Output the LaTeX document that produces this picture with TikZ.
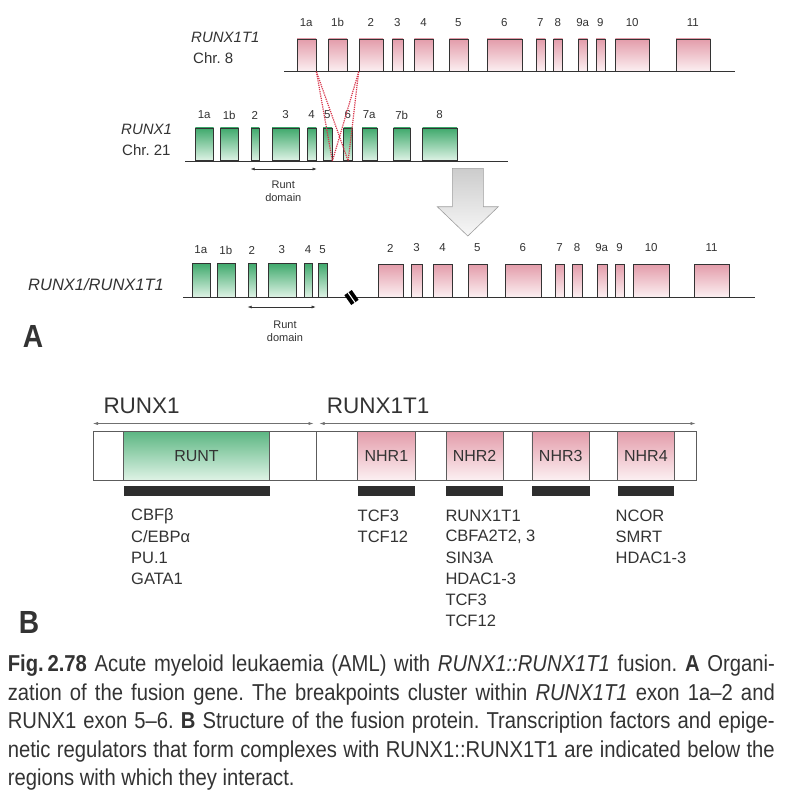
\documentclass[tikz,border=0pt]{standalone}
\usepackage{fontspec}
\setmainfont{Liberation Sans}
\newfontfamily\capfont[FakeStretch=0.88]{Liberation Sans}
\usetikzlibrary{arrows.meta,positioning,calc}
\frenchspacing

\definecolor{ink}{HTML}{333333}
\definecolor{pinkT}{HTML}{E39CAA}
\definecolor{pinkB}{HTML}{FCF0F2}
\definecolor{greenT}{HTML}{3FA96C}
\definecolor{greenB}{HTML}{DFF3E6}
\definecolor{brkred}{HTML}{D8344A}

\tikzset{
  exon/.style={draw=ink, line width=0.7pt, inner sep=0pt, anchor=south west, minimum height=#1},
  exonR/.style={exon=#1, top color=pinkT, bottom color=pinkB},
  exonG/.style={exon=#1, top color=greenT, bottom color=greenB},
  exnum/.style={font=\fontsize{11.5}{13}\selectfont, inner sep=0pt},
  gene/.style={font=\fontsize{15}{17}\selectfont\itshape, anchor=west, inner sep=0pt},
  chrom/.style={font=\fontsize{15}{17}\selectfont, anchor=west, inner sep=0pt},
  dna/.style={draw=ink, line width=1pt},
  fuse/.style={draw=brkred, densely dotted, line width=1.2pt},
  runtspan/.style={draw=ink, line width=0.5pt, {Latex[length=4pt,width=3pt]}-{Latex[length=4pt,width=3pt]}},
  runt/.style={font=\fontsize{11}{13.5}\selectfont, align=center, inner sep=0pt},
  protdom/.style={draw=ink!80, line width=0.5pt, inner sep=0pt, anchor=north west, minimum height=49pt, font=\fontsize{16}{18}\selectfont},
  protR/.style={protdom, top color=pinkT, bottom color=pinkB},
  protG/.style={protdom, top color=greenT!85, bottom color=greenB},
  bind/.style={fill=ink!90!black, inner sep=0pt, anchor=north west, minimum height=10pt},
  protspan/.style={draw=ink!70, line width=0.5pt, {Latex[length=5pt,width=3pt]}-{Latex[length=5pt,width=3pt]}},
  head/.style={font=\fontsize{22.5}{24}\selectfont, anchor=west, inner sep=0pt},
  partner/.style={font=\fontsize{16.5}{20}\selectfont, anchor=west, inner sep=0pt},
  panel/.style={font=\capfont\bfseries\fontsize{32}{34}\selectfont, inner sep=0pt},
  capline/.style={font=\capfont\fontsize{23}{28}\selectfont, anchor=west, inner sep=0pt}
}

\begin{document}
\begin{tikzpicture}[x=1pt,y=-1pt,every node/.append style={text=ink}]
\fill[white] (0,0) rectangle (794,804);

\node[gene] (g8) at (191,37) {RUNX1T1};
\node[chrom] (c8) at (193,58) {Chr. 8};
\coordinate (t0) at (284,71.7);
\coordinate (t1) at (735,71.7);
\draw[dna] (t0) -- (t1);
\foreach \n/\a/\b in {1a/296.7/315.7, 1b/328.3/346.7, 2/358.7/382.7, 3/392/402.7, 4/414/433.3, 5/449/467.7, 6/486.7/521.7, 7/535.7/545, 8/553.3/562.3, 9a/578/587.3, 9/595.7/605, 10/615/649.3, 11/675.7/710} {
    \node[exonR=32.4pt, minimum width={(\b-\a)*1pt}] (t\n) at (\a,71.7) {};
    \node[exnum] (tn\n) at ({(\a+\b)/2},22.7) {\n};
}

\node[gene] (g21) at (121,129) {RUNX1};
\node[chrom] (c21) at (122,150) {Chr. 21};
\coordinate (r0) at (185,161);
\coordinate (r1) at (508,161);
\draw[dna] (r0) -- (r1);
\foreach \n/\a/\b in {1a/195/213.3, 1b/220/238.3, 2/250.7/259, 3/271.7/299.3, 4/307.3/316, 5/322.7/331.7, 6/343.3/352.3, 7a/361.7/376.7, 7b/393.3/410, 8/422.3/456.7} {
    \node[exonG=32.7pt, minimum width={(\b-\a)*1pt}] (r\n) at (\a,161) {};
    \node[exnum] (rn\n) at ({(\a+\b)/2},115) {\n};
}
\foreach \s in {t1a.south east, t2.south west} {
    \foreach \e in {r5.south east, r6.south} {
        \draw[fuse] (\s) -- (\e);
    }
}
\draw[runtspan] ($(r2.south west)+(0,8)$) -- ($(r4.south east)+(0,8)$);
\node[runt] (rd1) at (283.3,191.5) {Runt\\domain};

\draw[draw=gray!75, line width=0.6pt, top color=gray!40, bottom color=gray!6] (452.3,168.3) -- (483.3,168.3) -- (483.3,206.7) -- (498.3,206.7) -- (467.8,236) -- (437.3,206.7) -- (452.3,206.7) -- cycle;

\node[gene, font=\fontsize{16.5}{18}\selectfont\itshape] (gf) at (28,284.5) {RUNX1/RUNX1T1};
\coordinate (f0) at (183,297.5);
\coordinate (f1) at (755,297.5);
\draw[dna] (f0) -- (f1);
\foreach \n/\a/\b in {1a/191.7/210, 1b/216.7/235, 2/247.7/256, 3/267.7/296, 4/304/312.3, 5/318.3/326.7} {
    \node[exonG=34pt, minimum width={(\b-\a)*1pt}] (f\n) at (\a,297.5) {};
    \node[exnum] (fn\n) at ({(\a+\b)/2},250) {\n};
}
\foreach \n/\a/\b in {2/377.7/402.7, 3/411/422, 4/433.3/451.7, 5/467.7/486.7, 6/505/540.7, 7/555/564.3, 8/572.3/581.7, 9a/596.7/606.7, 9/615/624.3, 10/633.3/669, 11/694/729} {
    \node[exonR=33pt, minimum width={(\b-\a)*1pt}] (h\n) at (\a,297.5) {};
    \node[exnum] (hn\n) at ({(\a+\b)/2},248) {\n};
}
\node[fill=black, minimum width=9pt, minimum height=12pt, inner sep=0pt, rotate=35] (brk) at (351.5,297.5) {};
\draw[white, line width=1.1pt] (brk.north) -- (brk.south);
\draw[runtspan] ($(f2.south west)+(0,9.5)$) -- ($(f4.south east)+(2.7,9.5)$);
\node[runt] (rd2) at (285,331.5) {Runt\\domain};
\node[panel] (pA) at (33,336) {A};

\node[head] (hr1) at (103.3,405.7) {RUNX1};
\node[head] (hr2) at (326.7,405.7) {RUNX1T1};
\coordinate (s0) at (93,423.5);
\coordinate (s1) at (313.5,423.5);
\coordinate (s2) at (319.5,423.5);
\coordinate (s3) at (695.5,423.5);
\draw[protspan] (s0) -- (s1);
\draw[protspan] (s2) -- (s3);
\node[draw=ink!80, line width=0.5pt, fill=white, minimum width=603pt, minimum height=49pt, inner sep=0pt, anchor=north west] (prot) at (92.7,431) {};
\draw[ink!80, line width=0.5pt] (316.7,431) -- (316.7,480);
\node[protG, minimum width=146pt] (RUNT) at (123.3,431) {RUNT};
\node[bind, minimum width=146pt] (bRUNT) at (123.3,486) {};
\foreach \n/\a/\b in {NHR1/357.3/415, NHR2/446/502.7, NHR3/531.7/589.3, NHR4/617.3/674} {
    \node[protR, minimum width={(\b-\a)*1pt}] (\n) at (\a,431) {\n};
    \node[bind, minimum width={(\b-\a)*1pt}] (b\n) at (\a,486) {};
}

\foreach \t [count=\i from 0] in {CBFβ, C/EBPα, PU.1, GATA1}
    \node[partner] (pa\i) at (131,{516+21*\i}) {\t};
\foreach \t [count=\i from 0] in {TCF3, TCF12}
    \node[partner] (pb\i) at (357.5,{516+21*\i}) {\t};
\foreach \t [count=\i from 0] in {RUNX1T1, {CBFA2T2, 3}, SIN3A, HDAC1-3, TCF3, TCF12}
    \node[partner] (pc\i) at (445.3,{516+21*\i}) {\t};
\foreach \t [count=\i from 0] in {NCOR, SMRT, HDAC1-3}
    \node[partner] (pd\i) at (615.5,{516+21*\i}) {\t};
\node[panel] (pB) at (29,622) {B};

\node[capline] (cap1) at (7.6,666) {\makebox[767pt][s]{\textbf{Fig.\,2.78} Acute myeloid leukaemia (AML) with \textit{RUNX1::RUNX1T1} fusion. \textbf{A} Organi-}};
\node[capline] (cap2) at (7.6,694.5) {\makebox[767pt][s]{zation of the fusion gene. The breakpoints cluster within \textit{RUNX1T1} exon 1a–2 and}};
\node[capline] (cap3) at (7.6,723) {\makebox[767pt][s]{RUNX1 exon 5–6. \textbf{B} Structure of the fusion protein. Transcription factors and epige-}};
\node[capline] (cap4) at (7.6,751.5) {\makebox[767pt][s]{netic regulators that form complexes with RUNX1::RUNX1T1 are indicated below the}};
\node[capline] (cap5) at (7.6,780) {regions with which they interact.};
\end{tikzpicture}
\end{document}
